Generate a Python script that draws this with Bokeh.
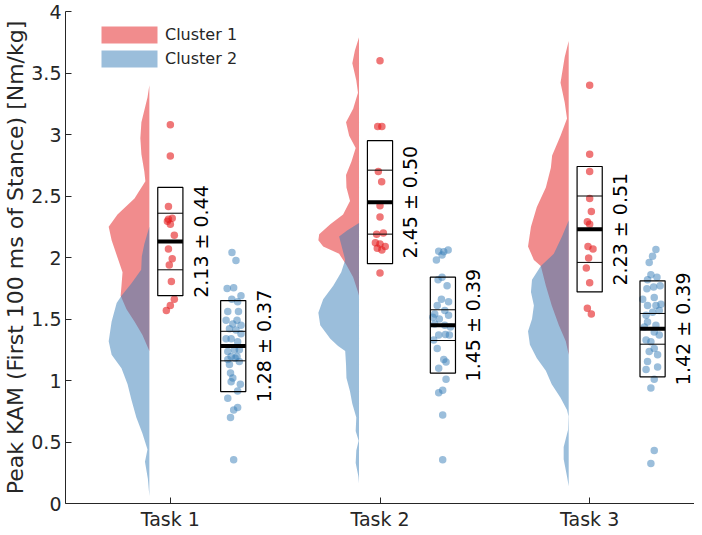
import numpy as np
from bokeh.plotting import figure
from bokeh.models import Range1d, FixedTicker, Legend, LegendItem, ColumnDataSource
from bokeh.embed import file_html
from bokeh.resources import INLINE

# ---------------- data ----------------
tasks = ["Task 1", "Task 2", "Task 3"]
task_pos = [1, 2, 3]
clusters = ["Cluster 1", "Cluster 2"]

# Cluster 1 individual values (Peak KAM) and horizontal jitter
c1_t1 = [3.08, 2.825, 2.415, 2.31, 2.32, 2.295, 2.27, 2.18, 2.07, 1.99, 1.94, 1.805, 1.66, 1.61, 1.57]
c1_t1_jit = [0, 0, -.009, -.009, .009, -.014, 0, .019, -.009, .009, -.005, .005, .019, 0, -.019]
c1_t2 = [3.60, 3.065, 3.065, 2.70, 2.615, 2.42, 2.33, 2.19, 2.20, 2.12, 2.11, 2.09, 2.075, 2.06, 1.875]
c1_t2_jit = [0, -.011, .009, -.008, .008, 0, 0, -.016, .016, -.022, 0, .025, -.013, .009, 0]
c1_t3 = [3.40, 2.84, 2.70, 2.48, 2.375, 2.29, 2.27, 2.09, 2.07, 1.995, 1.915, 1.795, 1.587, 1.54]
c1_t3_jit = [0, 0, 0, 0, .008, -.011, 0, -.008, .016, -.005, -.016, 0, -.011, .008]

# Cluster 2 individual values and jitter
c2_t1 = [2.04, 1.975, 1.747, 1.755, 1.69, 1.66, 1.64, 1.56, 1.56, 1.49, 1.49, 1.46, 1.45, 1.42, 1.41,
         1.38, 1.34, 1.34, 1.315, 1.235, 1.25, 1.25, 1.195, 1.195, 1.17, 1.18, 1.155, 1.13, 1.06, 1.02,
         0.99, 0.97, 0.915, 0.855, 0.78, 0.76, 0.70, 0.355]
c2_t1_jit = [-.006, .013, -.029, .002, .037, -.007, .021, -.026, .025, -.034, .018, -.002, .037, -.018, .013,
             .037, -.034, -.010, .021, -.026, .006, .029, -.010, .018, -.026, .009, .029, -.018, -.013, -.002,
             -.010, .034, .021, -.026, .021, .002, -.013, .002]
c2_t2 = [2.05, 2.047, 2.06, 1.98, 2.02, 1.82, 1.84, 1.77, 1.66, 1.64, 1.61, 1.54, 1.57, 1.53, 1.50, 1.515,
         1.45, 1.435, 1.46, 1.37, 1.375, 1.37, 1.33, 1.26, 1.17, 1.15, 1.10, 1.01, 0.90, 0.92, 0.72, 0.355]
c2_t2_jit = [-.020, .004, .025, -.031, -.004, -.023, -.004, .020, -.007, .027, -.027, -.039, .009, .027, -.017, -.048,
             .009, .036, -.039, -.020, .012, .031, -.044, -.027, .004, .015, -.020, .015, -.020, -.001, -.001, -.001]
c2_t3 = [2.066, 2.01, 1.96, 1.86, 1.84, 1.82, 1.76, 1.745, 1.77, 1.66, 1.675, 1.62, 1.61, 1.61, 1.555, 1.53, 1.57,
         1.475, 1.45, 1.435, 1.395, 1.37, 1.33, 1.315, 1.26, 1.235, 1.21, 1.155, 1.11, 1.09, 1.01, 0.94, 0.43, 0.325]
c2_t3_jit = [.016, 0, -.016, -.008, .021, -.024, .005, -.027, .036, -.047, .008, .040, -.024, .016, 0, -.031, .032,
             -.024, .016, -.039, .008, .032, -.031, -.008, .008, -.016, .024, -.024, .024, -.031, .008, -.008, .008, -.008]

# Summary statistics (mean, SD, 95% CI half width)
c1_mean = [2.13, 2.45, 2.23]
c1_sd = [0.44, 0.50, 0.51]
c1_ci = [0.23, 0.26, 0.27]
c2_mean = [1.28, 1.45, 1.42]
c2_sd = [0.37, 0.39, 0.39]
c2_ci = [0.12, 0.125, 0.125]

# Half-violin density profiles (value levels, half-width in x units)
v1_t1_y = [3.40, 3.30, 3.10, 2.97, 2.84, 2.70, 2.62, 2.48, 2.35, 2.25, 2.14, 2.00, 1.88, 1.77, 1.69, 1.58, 1.48, 1.37, 1.24]
v1_t1_w = [0, .009, .038, .043, .038, .024, .019, .071, .152, .194, .180, .152, .128, .133, .137, .109, .071, .033, 0]
v1_t2_y = [3.79, 3.68, 3.58, 3.44, 3.34, 3.21, 3.10, 2.99, 2.89, 2.78, 2.67, 2.57, 2.46, 2.35, 2.27, 2.19, 2.14,
           2.09, 2.03, 1.94, 1.84, 1.72, 1.69]
v1_t2_w = [0, .020, .032, .013, .005, .028, .062, .047, .016, .036, .062, .060, .043, .076, .137, .190, .194,
           .171, .095, .060, .028, .005, 0]
v1_t3_y = [3.76, 3.63, 3.42, 3.26, 3.13, 2.99, 2.83, 2.73, 2.57, 2.41, 2.25, 2.09, 1.98, 1.93, 1.77, 1.61, 1.45, 1.32, 1.21]
v1_t3_w = [0, .019, .039, .019, .008, .039, .079, .085, .109, .152, .180, .194, .166, .133, .109, .081, .047, .014, 0]

v2_t1_y = [2.25, 2.11, 2.01, 1.90, 1.79, 1.69, 1.63, 1.48, 1.32, 1.21, 1.10, 0.97, 0.84, 0.70, 0.57, 0.44, 0.34, 0.20, 0.06]
v2_t1_w = [0, .024, .036, .039, .085, .133, .156, .180, .194, .180, .133, .104, .085, .062, .033, .009, .021, .007, 0]
v2_t2_y = [2.28, 2.22, 2.17, 2.08, 1.98, 1.88, 1.77, 1.66, 1.55, 1.45, 1.34, 1.28, 1.24, 1.13, 1.02, 0.91, 0.81,
           0.70, 0.59, 0.51, 0.43, 0.33, 0.22, 0.16]
v2_t2_w = [0, .057, .095, .081, .066, .085, .123, .171, .194, .185, .137, .100, .066, .062, .060, .043, .032,
           .013, .016, .002, .013, .016, .003, 0]
v2_t3_y = [2.30, 2.17, 2.03, 1.93, 1.82, 1.72, 1.61, 1.50, 1.40, 1.29, 1.18, 1.08, 0.97, 0.86, 0.76, 0.71, 0.60,
           0.46, 0.36, 0.22, 0.14]
v2_t3_w = [0, .032, .071, .133, .175, .180, .166, .175, .194, .185, .152, .109, .081, .039, .008, .001, .003,
           .024, .024, .008, 0]

ytick_vals = [0, 0.5, 1, 1.5, 2, 2.5, 3, 3.5, 4]
ytick_labels = ["0", "0.5", "1", "1.5", "2", "2.5", "3", "3.5", "4"]

# ---------------- styling / layout ----------------
RED = "#e41a1c"
BLUE = "#377eb8"
AXC = "#262626"
FONT = "DejaVu Sans"
off_c1, off_c2, off_vio = 0.0, 0.30, -0.10
box_w = 0.12
txt_off = 0.093

p = figure(width=694, height=532, output_backend="svg", toolbar_location=None,
           x_range=Range1d(0.5, 3.5), y_range=Range1d(0, 4),
           min_border_left=59, min_border_right=0, min_border_top=11, min_border_bottom=24)
p.xgrid.visible = False
p.ygrid.visible = False
p.outline_line_color = None
p.background_fill_color = "white"
p.border_fill_color = "white"

# violins
vio_c1 = [(v1_t1_y, v1_t1_w), (v1_t2_y, v1_t2_w), (v1_t3_y, v1_t3_w)]
vio_c2 = [(v2_t1_y, v2_t1_w), (v2_t2_y, v2_t2_w), (v2_t3_y, v2_t3_w)]
red_r, blue_r = None, None
for t, (ys, ws) in zip(task_pos, vio_c1):
    base = t + off_vio
    r = p.harea(x1=[base - w for w in ws], x2=[base] * len(ws), y=ys,
                fill_color=RED, fill_alpha=0.5)
    red_r = red_r or r
for t, (ys, ws) in zip(task_pos, vio_c2):
    base = t + off_vio
    r = p.harea(x1=[base - w for w in ws], x2=[base] * len(ws), y=ys,
                fill_color=BLUE, fill_alpha=0.5)
    blue_r = blue_r or r

# points
pts_c1 = [(c1_t1, c1_t1_jit), (c1_t2, c1_t2_jit), (c1_t3, c1_t3_jit)]
pts_c2 = [(c2_t1, c2_t1_jit), (c2_t2, c2_t2_jit), (c2_t3, c2_t3_jit)]
for t, (vals, jit) in zip(task_pos, pts_c1):
    p.scatter(x=[t + off_c1 + j for j in jit], y=vals, size=7.5,
              fill_color=RED, fill_alpha=0.6, line_color=None)
for t, (vals, jit) in zip(task_pos, pts_c2):
    p.scatter(x=[t + off_c2 + j for j in jit], y=vals, size=7.5,
              fill_color=BLUE, fill_alpha=0.5, line_color=None)

# boxes, CI lines, mean lines, labels
for off, means, sds, cis in [(off_c1, c1_mean, c1_sd, c1_ci), (off_c2, c2_mean, c2_sd, c2_ci)]:
    cx = [t + off for t in task_pos]
    left = [c - box_w / 2 for c in cx]
    right = [c + box_w / 2 for c in cx]
    p.quad(left=left, right=right, bottom=[m - s for m, s in zip(means, sds)],
           top=[m + s for m, s in zip(means, sds)],
           fill_color=None, line_color="black", line_width=1.2)
    p.segment(x0=left, x1=right, y0=[m + c for m, c in zip(means, cis)],
              y1=[m + c for m, c in zip(means, cis)], line_color="black", line_width=1)
    p.segment(x0=left, x1=right, y0=[m - c for m, c in zip(means, cis)],
              y1=[m - c for m, c in zip(means, cis)], line_color="black", line_width=1)
    p.segment(x0=left, x1=right, y0=means, y1=means, line_color="black", line_width=4)
    src = ColumnDataSource(dict(x=[c + txt_off for c in cx], y=means,
                                t=[f"{m:.2f} \u00b1 {s:.2f}" for m, s in zip(means, sds)]))
    p.text(x="x", y="y", text="t", source=src, angle=np.pi / 2,
           text_align="center", text_baseline="top", text_font_size="19px",
           text_font={"value": FONT}, text_color="black")

# axes
p.xaxis.ticker = FixedTicker(ticks=task_pos)
p.xaxis.major_label_overrides = {t: lab for t, lab in zip(task_pos, tasks)}
p.yaxis.ticker = FixedTicker(ticks=ytick_vals)
p.yaxis.major_label_overrides = {v: lab for v, lab in zip(ytick_vals, ytick_labels)}
p.yaxis.axis_label = "Peak KAM (First 100 ms of Stance) [Nm/kg]"
for ax in [p.xaxis[0], p.yaxis[0]]:
    ax.axis_line_color = AXC
    ax.major_tick_line_color = AXC
    ax.major_tick_in = 6
    ax.major_tick_out = 0
    ax.minor_tick_line_color = None
    ax.major_label_text_font = FONT
    ax.major_label_text_font_size = "19px"
    ax.major_label_text_color = AXC
    ax.axis_label_text_font = FONT
    ax.axis_label_text_font_size = "22px"
    ax.axis_label_text_font_style = "normal"
    ax.axis_label_text_color = AXC
p.yaxis.major_label_standoff = 4
p.yaxis.axis_label_standoff = 0
p.xaxis.major_label_standoff = 4

legend = Legend(items=[LegendItem(label=clusters[0], renderers=[red_r]),
                       LegendItem(label=clusters[1], renderers=[blue_r])],
                location=(29, 434), glyph_width=70, glyph_height=21, label_height=21,
                label_standoff=1, spacing=3, padding=0, margin=0,
                border_line_color=None, background_fill_alpha=0,
                label_text_font=FONT, label_text_font_size="16px", label_text_color=AXC)
p.add_layout(legend)

open("out.html", "w").write(file_html(p, INLINE))
